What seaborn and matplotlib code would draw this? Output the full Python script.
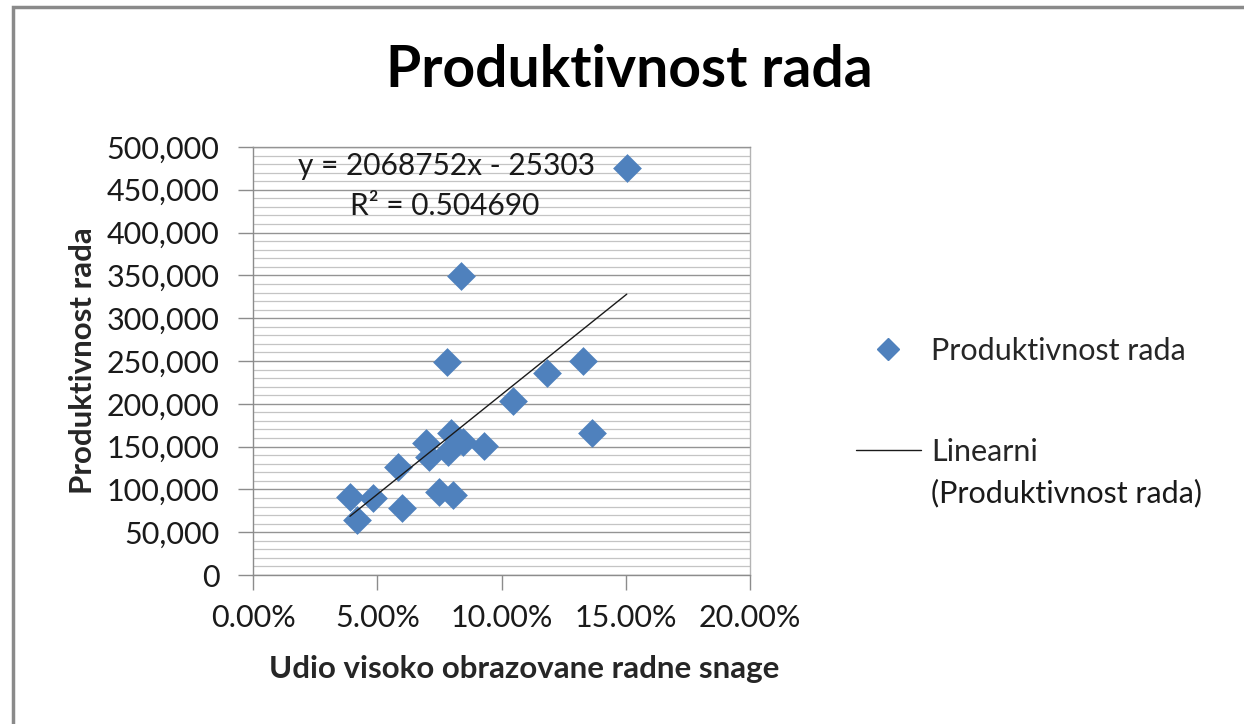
import numpy as np
import pandas as pd
import matplotlib
matplotlib.use("Agg")
import matplotlib.pyplot as plt
import matplotlib.ticker as mticker
from matplotlib.lines import Line2D
from matplotlib.patches import Rectangle
import seaborn as sns

# udio visoko obrazovane radne snage (fraction) i produktivnost rada
udio = [0.1504, 0.0836, 0.0782, 0.1329, 0.1182, 0.1045, 0.1363, 0.0696, 0.0796, 0.0844,
        0.0930, 0.0710, 0.0786, 0.0585, 0.0750, 0.0806, 0.0598, 0.0390, 0.0484, 0.0420]
produktivnost = [475000, 349000, 249000, 250000, 235600, 203600, 165500, 154600, 166000, 155700,
                 150700, 138000, 144000, 125800, 97300, 93500, 77900, 91500, 89600, 64300]
eq_text = "y = 2068752x - 25303"
r2_text = "R² = 0.504690"

df = pd.DataFrame({"udio": udio, "produktivnost": produktivnost})

sns.set_style("white")
plt.rcParams["font.family"] = ["Lato", "DejaVu Sans"]

blue = "#4F81BD"
fig = plt.figure(figsize=(12.44, 7.24), dpi=100)
ax = fig.add_axes([0.2034, 0.2058, 0.3995, 0.5912])

# gridlines
ax.set_axisbelow(True)
ax.yaxis.set_major_locator(mticker.MultipleLocator(50000))
ax.yaxis.set_minor_locator(mticker.MultipleLocator(10000))
ax.xaxis.set_major_locator(mticker.MultipleLocator(0.05))
ax.grid(axis="y", which="major", color="#949494", lw=1.0)
ax.grid(axis="y", which="minor", color="#C4C4C4", lw=0.9)

sns.scatterplot(data=df, x="udio", y="produktivnost", marker="D", s=215, color=blue,
                edgecolor=blue, linewidth=0, ax=ax, zorder=3, legend=False)

# linearni trend
k, n = np.polyfit(df["udio"], df["produktivnost"], 1)
xs = np.array([df["udio"].min(), df["udio"].max()])
ax.plot(xs, k * xs + n, color="#1A1A1A", lw=1.0, zorder=4)

ax.set_xlim(0, 0.20)
ax.set_ylim(0, 500000)
ax.xaxis.set_major_formatter(mticker.FuncFormatter(lambda v, p: f"{v*100:.2f}%"))
ax.yaxis.set_major_formatter(mticker.FuncFormatter(lambda v, p: f"{v:,.0f}"))
ax.tick_params(axis="both", which="major", labelsize=22, color="#8C8C8C", length=11,
               width=1.0, direction="out", labelcolor="#1A1A1A", bottom=True, left=True)
ax.tick_params(axis="x", pad=10)
ax.tick_params(axis="y", pad=13)
ax.tick_params(which="minor", length=0)
for s in ax.spines.values():
    s.set_color("#8C8C8C")
    s.set_linewidth(1.0)
ax.spines["right"].set_color("#B4B4B4")
ax.spines["top"].set_color("#949494")

ax.set_xlabel("Udio visoko obrazovane radne snage", fontsize=22.5, fontweight="bold")
ax.xaxis.set_label_coords(0.546, -0.188)
ax.set_ylabel("Produktivnost rada", fontsize=22.5, fontweight="bold")
ax.yaxis.set_label_coords(-0.314, 0.50)

ax.text(0.018, 478000, eq_text, fontsize=21.5, va="center", ha="left", color="#1A1A1A")
ax.text(0.039, 431000, r2_text, fontsize=21.5, va="center", ha="left", color="#1A1A1A")

fig.text(0.506, 0.902, "Produktivnost rada", fontsize=41, fontweight="bold",
         ha="center", va="center", color="#000000")

handles = [Line2D([], [], marker="D", ls="none", color=blue, markersize=11),
           Line2D([], [], color="#1A1A1A", lw=1.0)]
labels = ["Produktivnost rada", "Linearni"]
leg = fig.legend(handles, labels, loc="upper left", bbox_to_anchor=(0.6656, 0.573), frameon=False,
                 fontsize=22, labelspacing=2.4, handlelength=2.15, handletextpad=0.33)

# druga linija oznake trenda, poravnata s tekstom legende
fig.canvas.draw()
bb = leg.get_texts()[1].get_window_extent()
fig.text(bb.x0 / fig.bbox.width, (bb.y0 - 41) / fig.bbox.height, "(Produktivnost rada)",
         fontsize=22, ha="left", va="bottom", color="#1A1A1A")

# okvir grafikona
fig.patches.append(Rectangle((0.0105, -0.05), 1.2, 1.04, transform=fig.transFigure,
                             fill=False, edgecolor="#8A8A8A", lw=2.5))

fig.savefig("out.png", dpi=100)
